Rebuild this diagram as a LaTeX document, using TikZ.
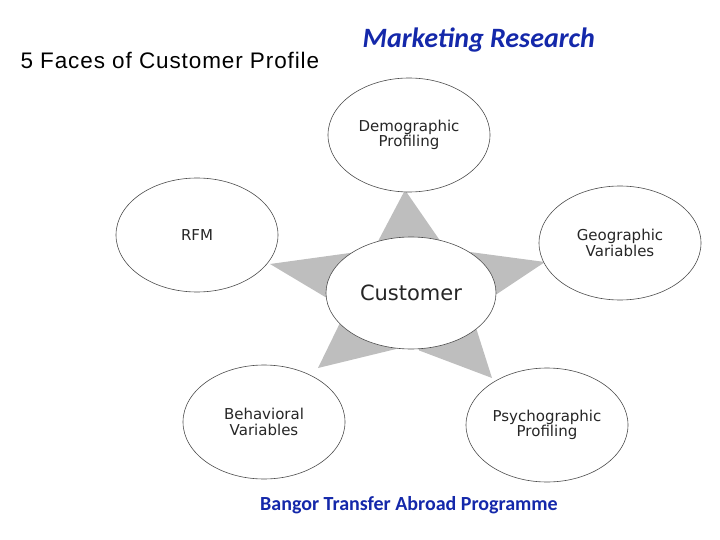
\documentclass[tikz,border=0pt]{standalone}
\usepackage{fontspec}
\setmainfont{Liberation Sans}
\newfontfamily\calib{Carlito}
\newfontfamily\lbl{DejaVu Sans}
\newfontfamily\ttlfont[LetterSpace=4]{Liberation Sans}
\usetikzlibrary{shapes.geometric,calc}
\definecolor{tblue}{RGB}{20,40,170}
\definecolor{sgray}{RGB}{190,190,190}
\begin{document}
\begin{tikzpicture}[x=1pt,y=-1pt,
  ell/.style={ellipse,draw=black!70,line width=0.6pt,fill=white,minimum width=162pt,minimum height=114pt,inner sep=0pt,align=center,font=\lbl\fontsize{15}{15.5}\selectfont,text=black!85}]
\useasboundingbox (0,0) rectangle (720,540);
\coordinate (c) at (411,293);
\coordinate (t1) at (405,190);
\coordinate (t2) at (545,262);
\coordinate (t3) at (492,378);
\coordinate (t4) at (318,368);
\coordinate (t5) at (270,264);
\foreach \t/\a in {t1/-93,t2/-13,t3/46,t4/141,t5/192}{
  \fill[sgray] (\t) -- ($(c)+(\a+36:58)$) -- (c) -- ($(c)+(\a-36:58)$) -- cycle;
}
\node[ell] (dem) at (409,135) {Demographic\\Profiling};
\node[ell] (rfm) at (197,235) {RFM};
\node[ell] (geo) at (620,243) {Geographic\\Variables};
\node[ell] (beh) at (264,422) {Behavioral\\Variables};
\node[ell] (psy) at (547,425) {Psychographic\\Profiling};
\node[ell,minimum width=170pt,minimum height=112pt,font=\lbl\fontsize{21}{22}\selectfont] (cus) at (411,293) {Customer};
\node[anchor=west,font=\ttlfont\fontsize{22.5}{23}\selectfont] (title) at (17,60) {5 Faces of Customer Profile};
\node[anchor=west,font=\calib\bfseries\itshape\fontsize{28}{29}\selectfont,text=tblue] (mr) at (359,40) {Marketing Research};
\node[font=\calib\bfseries\fontsize{20}{21}\selectfont,text=tblue] (foot) at (409,505) {Bangor Transfer Abroad Programme};
\end{tikzpicture}
\end{document}
